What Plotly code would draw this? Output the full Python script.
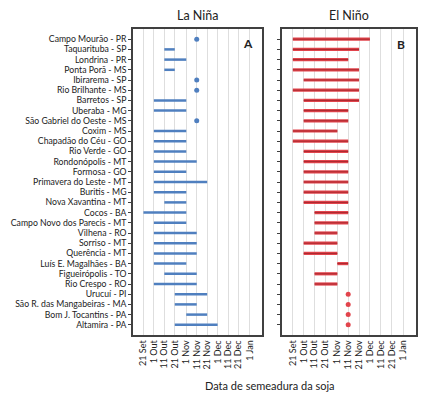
import plotly.graph_objects as go

cities = [
    "Campo Mourão - PR", "Taquarituba - SP", "Londrina - PR", "Ponta Porã - MS",
    "Ibirarema - SP", "Rio Brilhante - MS", "Barretos - SP", "Uberaba - MG",
    "São Gabriel do Oeste - MS", "Coxim - MS", "Chapadão do Céu - GO", "Rio Verde - GO",
    "Rondonópolis - MT", "Formosa - GO", "Primavera do Leste - MT", "Buritis - MG",
    "Nova Xavantina - MT", "Cocos - BA", "Campo Novo dos Parecis - MT", "Vilhena - RO",
    "Sorriso - MT", "Querência - MT", "Luís E. Magalhães - BA", "Figueirópolis - TO",
    "Rio Crespo - RO", "Urucuí - PI", "São R. das Mangabeiras - MA", "Bom J. Tocantins - PA",
    "Altamira - PA",
]

la_nina_start = [
    "2019-11-11", "2019-10-11", "2019-10-11", "2019-10-11", "2019-11-11", "2019-11-11",
    "2019-10-01", "2019-10-01", "2019-11-11", "2019-10-01", "2019-10-01", "2019-10-01",
    "2019-10-01", "2019-10-01", "2019-10-01", "2019-10-01", "2019-10-11", "2019-09-21",
    "2019-10-01", "2019-10-01", "2019-10-01", "2019-10-01", "2019-10-01", "2019-10-11",
    "2019-10-01", "2019-10-21", "2019-10-21", "2019-11-01", "2019-10-21",
]
la_nina_end = [
    "2019-11-11", "2019-10-21", "2019-11-01", "2019-10-21", "2019-11-11", "2019-11-11",
    "2019-11-01", "2019-11-01", "2019-11-11", "2019-11-01", "2019-11-01", "2019-11-01",
    "2019-11-11", "2019-11-01", "2019-11-21", "2019-11-01", "2019-11-01", "2019-11-01",
    "2019-11-01", "2019-11-11", "2019-11-11", "2019-11-11", "2019-11-01", "2019-11-11",
    "2019-11-11", "2019-11-21", "2019-11-11", "2019-11-21", "2019-12-01",
]
el_nino_start = [
    "2019-09-21", "2019-09-21", "2019-09-21", "2019-09-21", "2019-10-01", "2019-09-21",
    "2019-10-01", "2019-10-01", "2019-10-01", "2019-09-21", "2019-09-21", "2019-10-01",
    "2019-10-01", "2019-10-01", "2019-10-01", "2019-10-01", "2019-10-01", "2019-10-11",
    "2019-10-11", "2019-10-11", "2019-10-01", "2019-10-01", "2019-11-01", "2019-10-11",
    "2019-10-11", "2019-11-11", "2019-11-11", "2019-11-11", "2019-11-11",
]
el_nino_end = [
    "2019-12-01", "2019-11-21", "2019-11-11", "2019-11-21", "2019-11-21", "2019-11-21",
    "2019-11-21", "2019-11-11", "2019-11-11", "2019-11-01", "2019-11-11", "2019-11-11",
    "2019-11-11", "2019-11-11", "2019-11-11", "2019-11-11", "2019-11-11", "2019-11-11",
    "2019-11-11", "2019-11-01", "2019-11-01", "2019-11-01", "2019-11-11", "2019-11-01",
    "2019-11-01", "2019-11-11", "2019-11-11", "2019-11-11", "2019-11-11",
]

tick_vals = ["2019-09-21", "2019-10-01", "2019-10-11", "2019-10-21", "2019-11-01",
             "2019-11-11", "2019-11-21", "2019-12-01", "2019-12-11", "2019-12-21",
             "2020-01-01"]
tick_text = ["21 Set", "1 Out", "11 Out", "21 Out", "1 Nov", "11 Nov", "21 Nov",
             "1 Dec", "11 Dec", "21 Dec", "1 Jan"]

FONT = "Lato"
W, H, OFF = 418, 385, 8  # page body margin of 8px shifts the figure


def px(x):
    return (x - OFF) / W


def py(y):
    return 1 - (y - OFF) / H


fig = go.Figure()


def add_panel(starts, ends, xa, ya, colors, widths, dot_color):
    lx, ly, dx, dy = [], [], [], []
    for c, s, e in zip(cities, starts, ends):
        if s == e:
            dx.append(s)
            dy.append(c)
        else:
            lx += [s, e, None]
            ly += [c, c, None]
    for col, w in zip(colors, widths):
        fig.add_trace(go.Scatter(x=lx, y=ly, mode="lines", xaxis=xa, yaxis=ya,
                                 line=dict(color=col, width=w), showlegend=False,
                                 hoverinfo="skip"))
    fig.add_trace(go.Scatter(x=dx, y=dy, mode="markers", xaxis=xa, yaxis=ya,
                             marker=dict(color=dot_color, size=5), showlegend=False))


add_panel(la_nina_start, la_nina_end, "x", "y", ["#4F7FBF"], [2.5], "#4F7FBF")
add_panel(el_nino_start, el_nino_end, "x2", "y2", ["#E2444C", "#A8282E"], [3.2, 1.0], "#E2444C")

xcommon = dict(type="date", range=["2019-09-11", "2020-01-12 12:00"], tickmode="array",
               tickvals=tick_vals, ticktext=tick_text, tickangle=-90,
               showgrid=True, gridcolor="#DEDEDE", gridwidth=1,
               showline=True, mirror=True, linecolor="#404040", linewidth=1.5,
               tickfont=dict(family=FONT, size=9, color="#222"), automargin=False,
               zeroline=False)
ycommon = dict(type="category", categoryorder="array", categoryarray=cities,
               tickmode="array", tickvals=cities, ticktext=cities,
               range=[29, -1], showgrid=False, showline=True, mirror=True,
               linecolor="#404040", linewidth=1.5, ticks="outside", ticklen=3,
               tickcolor="#404040", tickfont=dict(family=FONT, size=8.7, color="#222"),
               automargin=False, zeroline=False)

fig.update_layout(
    width=W, height=H,
    margin=dict(l=0, r=0, t=0, b=0),
    paper_bgcolor="white", plot_bgcolor="white",
    xaxis=dict(domain=[px(133), px(262)], anchor="y", **xcommon),
    xaxis2=dict(domain=[px(282), px(416)], anchor="y2", **xcommon),
    yaxis=dict(domain=[py(335), py(29)], anchor="x", **ycommon),
    yaxis2=dict(domain=[py(335), py(29)], anchor="x2", showticklabels=False, **ycommon),
    annotations=[
        dict(text="La Niña", x=px(197.5), y=py(15), xref="paper", yref="paper",
             xanchor="center", yanchor="middle", showarrow=False,
             font=dict(family=FONT, size=12.5, color="#222")),
        dict(text="El Niño", x=px(349), y=py(15), xref="paper", yref="paper",
             xanchor="center", yanchor="middle", showarrow=False,
             font=dict(family=FONT, size=12.5, color="#222")),
        dict(text="<b>A</b>", x=px(248), y=py(43), xref="paper", yref="paper",
             xanchor="center", yanchor="middle", showarrow=False,
             font=dict(family=FONT, size=12, color="#222")),
        dict(text="<b>B</b>", x=px(401), y=py(44), xref="paper", yref="paper",
             xanchor="center", yanchor="middle", showarrow=False,
             font=dict(family=FONT, size=12, color="#222")),
        dict(text="Data de semeadura da soja", x=px(270), y=py(385),
             xref="paper", yref="paper", xanchor="center", yanchor="middle",
             showarrow=False, font=dict(family=FONT, size=11, color="#222")),
    ],
)

fig.write_html("out.html")
